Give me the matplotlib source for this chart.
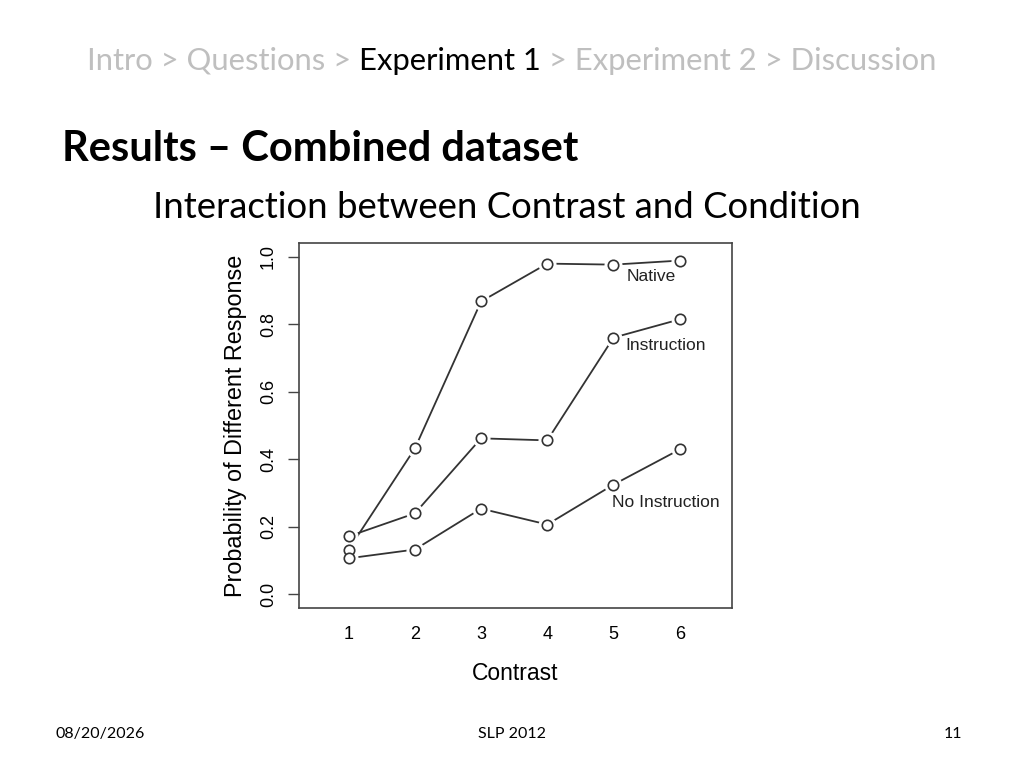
import matplotlib
matplotlib.use("Agg")
import matplotlib.pyplot as plt
from matplotlib.offsetbox import TextArea, HPacker, AnchoredOffsetbox

# Data
contrast = [1, 2, 3, 4, 5, 6]
native = [0.133, 0.432, 0.867, 0.979, 0.976, 0.988]
instruction = [0.172, 0.240, 0.462, 0.456, 0.760, 0.814]
no_instruction = [0.107, 0.133, 0.254, 0.207, 0.325, 0.429]
series = [native, instruction, no_instruction]
series_labels = ["Native", "Instruction", "No Instruction"]
label_pos = [(5.2, 0.94), (5.18, 0.737), (4.97, 0.272)]
yticks = [0.0, 0.2, 0.4, 0.6, 0.8, 1.0]

crumbs = ["Intro > Questions > ", "Experiment 1", " > Experiment 2 > Discussion"]
crumb_colors = ["#bfbfbf", "#000000", "#bfbfbf"]

SLIDE_FONT = "Lato"
PLOT_FONT = "Liberation Sans"
LINE = "#333333"

fig = plt.figure(figsize=(10.24, 7.68), dpi=100)

# breadcrumb, coloured piece by piece on a shared baseline
parts = [TextArea(txt, textprops=dict(color=col, fontsize=22.3, family=SLIDE_FONT))
         for txt, col in zip(crumbs, crumb_colors)]
crumb_box = HPacker(children=parts, align="baseline", pad=0, sep=0)
fig.add_artist(AnchoredOffsetbox(loc="center", child=crumb_box, frameon=False,
                                 pad=0, borderpad=0,
                                 bbox_to_anchor=(512 / 1024, 1 - 61 / 768),
                                 bbox_transform=fig.transFigure))

fig.text(62 / 1024, 1 - 149 / 768, "Results \u2013 Combined dataset",
         fontsize=30, fontweight="bold", family=SLIDE_FONT, va="center", ha="left")
fig.text(507 / 1024, 1 - 207 / 768, "Interaction between Contrast and Condition",
         fontsize=26.3, family=SLIDE_FONT, va="center", ha="center")

for fx, txt, ha in [(55, "08/20/2026", "left"), (512, "SLP 2012", "center"),
                    (962, "11", "right")]:
    fig.text(fx / 1024, 1 - 738 / 768, txt, fontsize=11.5, family=SLIDE_FONT,
             va="baseline", ha=ha)

# the R plot
ax = fig.add_axes([299 / 1024, 1 - 608 / 768, 433 / 1024, 365 / 768])
for s in series:
    ax.plot(contrast, s, color=LINE, lw=1.3, zorder=1)
for s in series:
    ax.plot(contrast, s, ls="none", marker="o", ms=12, mfc="white", mec="white",
            zorder=2)
for s in series:
    ax.plot(contrast, s, ls="none", marker="o", ms=7.5, mfc="white", mec=LINE,
            mew=1.2, zorder=3)
for lab, (lx, ly) in zip(series_labels, label_pos):
    ax.text(lx, ly, lab, fontsize=12.5, family=PLOT_FONT, color="#222222",
            ha="left", va="center", zorder=4)

ax.set_xlim(0.25, 6.79)
ax.set_ylim(-0.04, 1.04)
ax.set_xticks(contrast)
ax.set_xticklabels([str(c) for c in contrast], family=PLOT_FONT, fontsize=13)
ax.tick_params(axis="x", length=0, pad=13)
ax.set_yticks(yticks)
ax.set_yticklabels([f"{v:.1f}" for v in yticks], family=PLOT_FONT, fontsize=13,
                   rotation=90, va="center")
ax.tick_params(axis="y", length=8, width=1.0, color="#444444", pad=8)
for sp in ax.spines.values():
    sp.set_color("#444444")
    sp.set_linewidth(1.2)
ax.set_xlabel("Contrast", family=PLOT_FONT, fontsize=16.5, labelpad=14)
ax.set_ylabel("Probability of Different Response", family=PLOT_FONT,
              fontsize=16.8, labelpad=9)

fig.savefig("out.png", dpi=100)
